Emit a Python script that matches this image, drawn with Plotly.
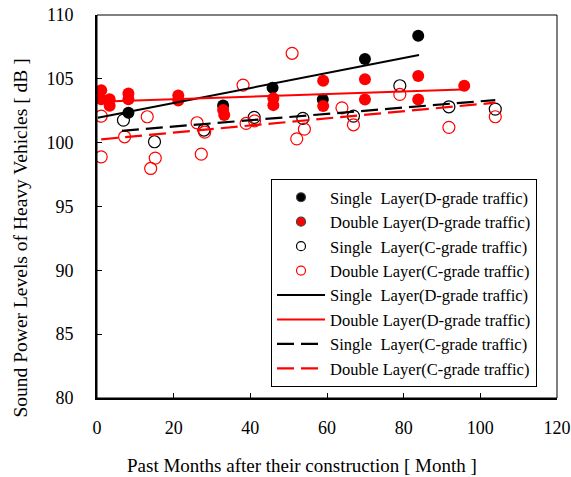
import plotly.graph_objects as go

# ---- data ----
single_d_x = [8.2, 32.9, 45.8, 58.9, 69.9, 83.8]
single_d_y = [102.34, 102.92, 104.30, 103.39, 106.55, 108.38]

double_d_x = [1.1, 1.1, 3.3, 3.3, 8.2, 8.2, 21.2, 21.2, 32.9, 33.2, 46.0, 46.0,
              59.0, 59.0, 69.9, 69.9, 83.8, 83.8, 95.8]
double_d_y = [104.1, 103.4, 103.4, 102.9, 103.86, 103.4, 103.7, 103.3, 102.55, 102.16,
              103.47, 102.94, 104.85, 102.87, 104.96, 103.39, 105.22, 103.39, 104.46]

single_c_x = [6.9, 15.0, 27.9, 41.0, 53.7, 66.9, 79.0, 91.8, 103.9]
single_c_y = [101.77, 100.07, 100.99, 101.98, 101.90, 102.08, 104.46, 102.81, 102.63]

double_c_x = [1.1, 1.1, 7.2, 13.1, 14.0, 15.2, 26.1, 27.2, 28.1, 38.1, 38.9, 41.1,
              50.9, 52.1, 54.1, 63.9, 66.9, 79.0, 91.8, 103.9]
double_c_y = [102.08, 98.89, 100.46, 102.03, 97.98, 98.79, 101.56, 99.10, 100.83, 104.51,
              101.51, 101.71, 107.0, 100.30, 101.06, 102.73, 101.40, 103.78, 101.20, 102.03]

# trend lines (end points)
trend_single_d_x = [0.2, 84.0]
trend_single_d_y = [101.95, 106.86]
trend_double_d_x = [0.2, 95.2]
trend_double_d_y = [103.2, 104.17]
trend_single_c_x = [6.5, 103.9]
trend_single_c_y = [100.93, 103.34]
trend_double_c_x = [1.1, 103.9]
trend_double_c_y = [100.26, 103.13]

x_ticks = [0, 20, 40, 60, 80, 100, 120]
y_ticks = [80, 85, 90, 95, 100, 105, 110]

labels = [
    "Single\u00a0 Layer(D-grade traffic)",
    "Double Layer(D-grade traffic)",
    "Single\u00a0 Layer(C-grade traffic)",
    "Double Layer(C-grade traffic)",
]

RED = "#ff0000"
BLACK = "#000000"
FONT = "Times New Roman, Liberation Serif, DejaVu Serif, serif"

fig = go.Figure()

# data markers (no legend)
fig.add_trace(go.Scatter(x=single_d_x, y=single_d_y, mode="markers", showlegend=False,
                         marker=dict(symbol="circle", size=12, color=BLACK, line=dict(width=0))))
fig.add_trace(go.Scatter(x=double_d_x, y=double_d_y, mode="markers", showlegend=False,
                         marker=dict(symbol="circle", size=12, color=RED, line=dict(width=0))))
fig.add_trace(go.Scatter(x=single_c_x, y=single_c_y, mode="markers", showlegend=False,
                         marker=dict(symbol="circle-open", size=12, color=BLACK, line=dict(width=1.2))))
fig.add_trace(go.Scatter(x=double_c_x, y=double_c_y, mode="markers", showlegend=False,
                         marker=dict(symbol="circle-open", size=12, color=RED, line=dict(width=1.2))))

# legend entries for markers (smaller symbols)
for name, sym, col in [(labels[0], "circle", BLACK), (labels[1], "circle", RED),
                       (labels[2], "circle-open", BLACK), (labels[3], "circle-open", RED)]:
    fig.add_trace(go.Scatter(x=[None], y=[None], mode="markers", name=name,
                             marker=dict(symbol=sym, size=9, color=col, line=dict(width=1.2))))

# trend lines
fig.add_trace(go.Scatter(x=trend_single_d_x, y=trend_single_d_y, mode="lines", name=labels[0],
                         line=dict(color=BLACK, width=2)))
fig.add_trace(go.Scatter(x=trend_double_d_x, y=trend_double_d_y, mode="lines", name=labels[1],
                         line=dict(color=RED, width=2)))
fig.add_trace(go.Scatter(x=trend_single_c_x, y=trend_single_c_y, mode="lines", name=labels[2],
                         line=dict(color=BLACK, width=2.2, dash="17px,7px")))
fig.add_trace(go.Scatter(x=trend_double_c_x, y=trend_double_c_y, mode="lines", name=labels[3],
                         line=dict(color=RED, width=2.2, dash="17px,7px")))

L, R, T, B = 97, 14, 15, 79
W, H = 571, 477
pw = W - L - R
ph = H - T - B

def px2paper_x(px):
    return (px - L) / pw

def py2paper_y(py):
    return (H - B - py) / ph

fig.update_layout(
    width=W, height=H, autosize=False,
    margin=dict(l=L, r=R, t=T, b=B, pad=0, autoexpand=False),
    paper_bgcolor="white", plot_bgcolor="white",
    font=dict(family=FONT, size=17, color="black"),
    showlegend=True,
    legend=dict(
        x=px2paper_x(537), y=py2paper_y(387), xanchor="right", yanchor="bottom",
        bgcolor="white", bordercolor="black", borderwidth=1,
        font=dict(family=FONT, size=16.5, color="black"),
        tracegroupgap=0, itemwidth=48,
    ),
    xaxis=dict(
        range=[0, 120], tickvals=x_ticks, ticktext=[str(v) for v in x_ticks],
        ticks="inside", ticklen=5, tickwidth=1, tickcolor="black",
        showline=True, linecolor="black", linewidth=2, mirror=False,
        showgrid=False, zeroline=False, automargin=False,
        tickfont=dict(family=FONT, size=18), ticklabelstandoff=12,
    ),
    yaxis=dict(
        range=[80, 110], tickvals=y_ticks, ticktext=[str(v) for v in y_ticks],
        ticks="inside", ticklen=5, tickwidth=1, tickcolor="black",
        showline=True, linecolor="black", linewidth=2, mirror=False,
        showgrid=False, zeroline=False, automargin=False,
        tickfont=dict(family=FONT, size=18), ticklabelstandoff=18,
    ),
    annotations=[
        dict(text="Past Months after their construction [ Month ]", xref="paper", yref="paper",
             x=px2paper_x(301.5), y=py2paper_y(465), xanchor="center", yanchor="middle",
             showarrow=False, font=dict(family=FONT, size=19)),
        dict(text="Sound Power Levels of Heavy Vehicles [ dB ]", xref="paper", yref="paper",
             x=px2paper_x(19.5), y=py2paper_y(238), xanchor="center", yanchor="middle",
             textangle=-90, showarrow=False, font=dict(family=FONT, size=19.5)),
    ],
    shapes=[
        dict(type="rect", xref="paper", yref="paper", x0=0, x1=1, y0=0, y1=1,
             line=dict(color="black", width=1), layer="above"),
    ],
)

fig.write_html("out.html")
